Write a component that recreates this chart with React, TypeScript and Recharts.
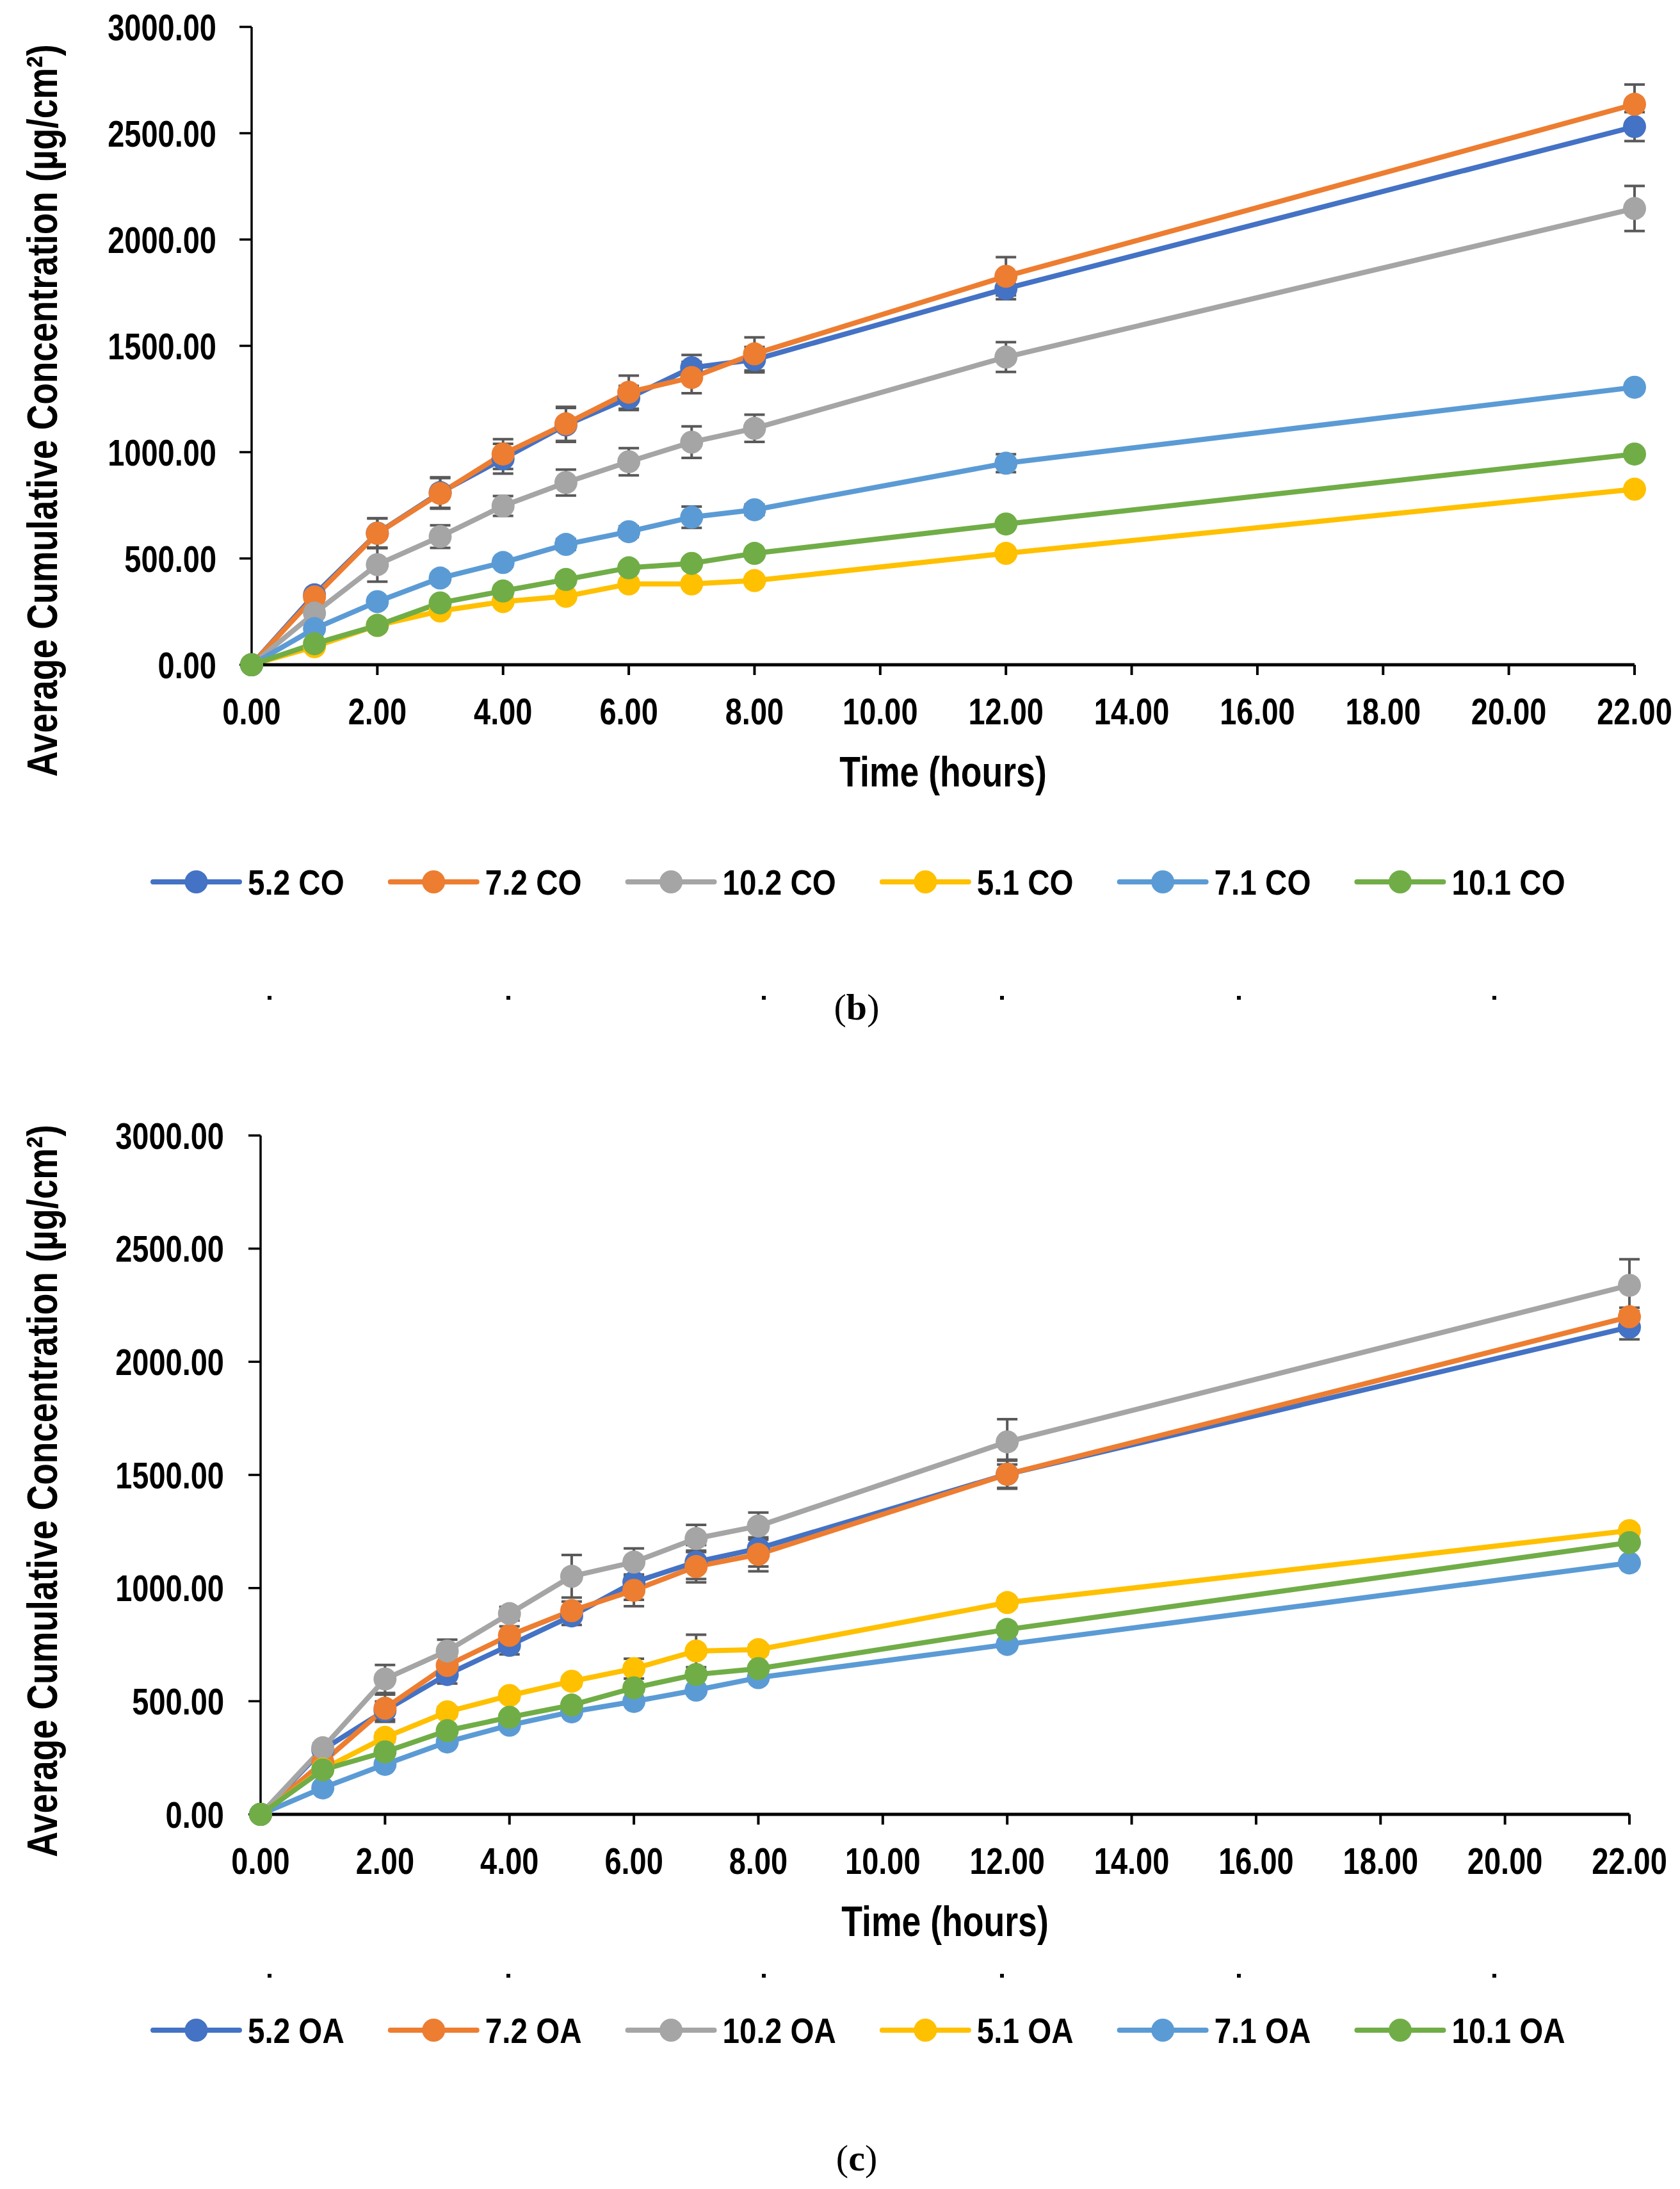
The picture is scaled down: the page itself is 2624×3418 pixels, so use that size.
import React from "react";
import { LineChart, Line, XAxis, YAxis, ErrorBar, Legend } from "recharts";

// sampling times (hours)
const times = [0, 1, 2, 3, 4, 5, 6, 7, 8, 12, 22];
const xTicks = [0, 2, 4, 6, 8, 10, 12, 14, 16, 18, 20, 22];
const yTicks = [0, 500, 1000, 1500, 2000, 2500, 3000];

// (b) CO formulations
const co52 = [0, 329, 619, 810, 969, 1128, 1255, 1397, 1435, 1769, 2531];
const co72 = [0, 319, 618, 806, 991, 1133, 1282, 1351, 1462, 1827, 2636];
const co102 = [0, 243, 471, 603, 747, 857, 955, 1047, 1112, 1447, 2146];
const co51 = [0, 85, 185, 253, 297, 322, 380, 380, 396, 524, 826];
const co71 = [0, 170, 297, 408, 481, 566, 626, 694, 729, 948, 1305];
const co101 = [0, 99, 185, 291, 347, 401, 456, 477, 524, 662, 991];

const co52Err = [0, 15, 70, 72, 70, 80, 57, 60, 60, 50, 68];
const co72Err = [0, 20, 70, 72, 70, 80, 78, 74, 78, 90, 93];
const co102Err = [0, 20, 80, 53, 47, 61, 64, 74, 64, 70, 106];
const co51Err = [0, 10, 15, 15, 15, 15, 15, 15, 15, 15, 15];
const co71Err = [0, 10, 20, 20, 20, 25, 25, 50, 25, 42, 20];
const co101Err = [0, 10, 15, 15, 15, 15, 15, 15, 15, 15, 15];

// (c) OA formulations
const oa52 = [0, 286, 459, 618, 747, 877, 1026, 1115, 1175, 1503, 2153];
const oa72 = [0, 230, 469, 658, 791, 900, 990, 1095, 1149, 1503, 2199];
const oa102 = [0, 294, 598, 722, 887, 1052, 1115, 1219, 1274, 1646, 2338];
const oa51 = [0, 200, 340, 453, 525, 588, 644, 722, 728, 936, 1254];
const oa71 = [0, 117, 221, 320, 394, 453, 499, 549, 604, 751, 1111];
const oa101 = [0, 197, 276, 370, 429, 483, 559, 618, 644, 817, 1201];

const oa52Err = [0, 20, 40, 40, 40, 40, 78, 75, 80, 64, 54];
const oa72Err = [0, 20, 60, 40, 40, 40, 70, 70, 75, 60, 40];
const oa102Err = [0, 20, 62, 50, 30, 94, 60, 60, 60, 100, 115];
const oa51Err = [0, 10, 20, 20, 20, 20, 44, 72, 20, 20, 20];
const oa71Err = [0, 10, 15, 15, 15, 15, 15, 15, 15, 15, 15];
const oa101Err = [0, 10, 15, 15, 15, 15, 15, 15, 15, 15, 15];

const colors = ["#4472C4", "#ED7D31", "#A5A5A5", "#FFC000", "#5B9BD5", "#70AD47"];
const coNames = ["5.2 CO", "7.2 CO", "10.2 CO", "5.1 CO", "7.1 CO", "10.1 CO"];
const oaNames = ["5.2 OA", "7.2 OA", "10.2 OA", "5.1 OA", "7.1 OA", "10.1 OA"];

const FONT = "'Liberation Sans', Arial, sans-serif";

function buildRows(series: number[][], errs: number[][]) {
  return times.map((t, i) => {
    const row: Record<string, number> = { t };
    series.forEach((s, k) => {
      row["s" + k] = s[i];
      row["e" + k] = errs[k][i];
    });
    return row;
  });
}

const dataB = buildRows([co52, co72, co102, co51, co71, co101], [co52Err, co72Err, co102Err, co51Err, co71Err, co101Err]);
const dataC = buildRows([oa52, oa72, oa102, oa51, oa71, oa101], [oa52Err, oa72Err, oa102Err, oa51Err, oa71Err, oa101Err]);

const charW: Record<string, number> = { ".": 0.278, " ": 0.278, C: 0.722, O: 0.778, A: 0.722 };
const textEm = (s: string) => s.split("").reduce((a, c) => a + (charW[c] ?? 0.556), 0);

const YTick = ({ x, y, payload }: any) => (
  <text transform={`translate(${x},${y}) scale(0.81,1)`} textAnchor="end" dy="0.355em"
    fontSize={58} fontWeight="bold" fontFamily={FONT} fill="#000">
    {Number(payload.value).toFixed(2)}
  </text>
);

const XTick = ({ x, y, payload }: any) => (
  <text transform={`translate(${x},${y + 77}) scale(0.81,1)`} textAnchor="middle"
    fontSize={58} fontWeight="bold" fontFamily={FONT} fill="#000">
    {Number(payload.value).toFixed(2)}
  </text>
);

// Excel-style legend row: line + marker, then label
function makeLegend(names: string[]) {
  return () => {
    let x0 = 239;
    const items = names.map((n, k) => {
      const start = x0;
      x0 += 135 + 13 + textEm(n) * 56 * 0.85 + 72;
      return (
        <g key={n}>
          <line x1={start} x2={start + 135} y1={50} y2={50} stroke={colors[k]} strokeWidth={8} strokeLinecap="round" />
          <circle cx={start + 67.5} cy={50} r={18} fill={colors[k]} />
          <text transform={`translate(${start + 148},70) scale(0.85,1)`} fontSize={56} fontWeight="bold" fontFamily={FONT} fill="#000">
            {n}
          </text>
        </g>
      );
    });
    return <svg width={2624} height={100} style={{ overflow: "visible", display: "block" }}>{items}</svg>;
  };
}

function Panel({ data, names, height, margin, yWidth, tickMargin, titleY, legendTop }: any) {
  return (
    <LineChart width={2624} height={height} data={data} margin={margin}>
      <XAxis dataKey="t" type="number" domain={[0, 22]} ticks={xTicks} interval={0}
        tick={<XTick />} tickSize={16} tickMargin={0}
        axisLine={{ stroke: "#000", strokeWidth: 5 }} tickLine={{ stroke: "#000", strokeWidth: 4 }}
        height={262}
        label={{
          content: ({ viewBox }: any) => (
            <text transform={`translate(${viewBox.x + viewBox.width / 2},${viewBox.y + 190}) scale(0.8,1)`}
              textAnchor="middle" fontSize={67} fontWeight="bold" fontFamily={FONT} fill="#000">
              Time (hours)
            </text>
          ),
        }} />
      <YAxis type="number" domain={[0, 3000]} ticks={yTicks} interval={0} width={yWidth}
        tick={<YTick />} tickSize={19} tickMargin={tickMargin}
        axisLine={{ stroke: "#000", strokeWidth: 3.5 }} tickLine={{ stroke: "#000", strokeWidth: 3.5 }}
        label={{
          content: () => (
            <text transform={`translate(89,${titleY}) rotate(-90) scale(0.82,1)`}
              textAnchor="middle" fontSize={67} fontWeight="bold" fontFamily={FONT} fill="#000">
              Average Cumulative Concentration (µg/cm²)
            </text>
          ),
        }} />
      <Legend verticalAlign="middle" content={makeLegend(names)}
        wrapperStyle={{ left: 0, top: legendTop - 50, width: 2624, height: 100 }} />
      {names.map((n: string, k: number) => (
        <Line key={n} name={n} type="linear" dataKey={"s" + k} stroke={colors[k]} strokeWidth={8}
          strokeLinejoin="round" dot={{ r: 18, fill: colors[k], stroke: colors[k], strokeWidth: 0 }}
          activeDot={false} isAnimationActive={false}>
          <ErrorBar dataKey={"e" + k} width={16} stroke="#595959" strokeWidth={4} direction="y" isAnimationActive={false} />
        </Line>
      ))}
    </LineChart>
  );
}

const dotXs = [421, 794, 1193, 1565, 1935, 2334];

function DotRow({ top }: { top: number }) {
  return (
    <>
      {dotXs.map((x) => (
        <div key={x} style={{ position: "absolute", left: x - 3, top: top - 3, width: 6, height: 6, background: "#000" }} />
      ))}
    </>
  );
}

function Caption({ top, letter }: { top: number; letter: string }) {
  return (
    <div style={{ position: "absolute", left: 1238, width: 200, top, textAlign: "center",
      fontFamily: "'Liberation Serif', 'DejaVu Serif', serif", fontSize: 58, lineHeight: "70px", color: "#000" }}>
      (<b>{letter}</b>)
    </div>
  );
}

export default function App() {
  return (
    <div style={{ position: "absolute", left: 0, top: 0, width: 2624, height: 3418, background: "#fff", overflow: "hidden" }}>
      <div style={{ position: "absolute", left: 0, top: 0 }}>
        <Panel data={dataB} names={coNames} height={1450}
          margin={{ top: 42, right: 71, bottom: 150, left: 0 }} yWidth={393} tickMargin={36}
          titleY={641} legendTop={1377} />
      </div>
      <DotRow top={1558} />
      <Caption top={1538} letter="b" />
      <div style={{ position: "absolute", left: 0, top: 1700 }}>
        <Panel data={dataC} names={oaNames} height={1550}
          margin={{ top: 73, right: 79, bottom: 155, left: 0 }} yWidth={407} tickMargin={38}
          titleY={628} legendTop={1470} />
      </div>
      <DotRow top={3085} />
      <Caption top={3335} letter="c" />
    </div>
  );
}
